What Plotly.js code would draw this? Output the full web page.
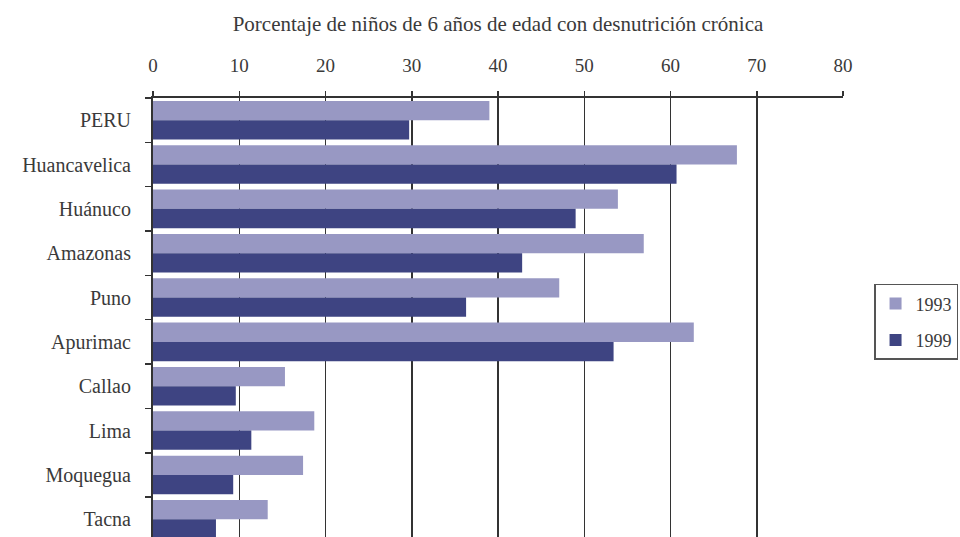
<!DOCTYPE html>
<html>
<head>
<meta charset="utf-8">
<script src="https://cdn.plot.ly/plotly-3.0.1.min.js"></script>
<style>html,body{margin:0;padding:0;background:#fff;}#chart{width:960px;height:537px;}</style>
</head>
<body>
<div id="chart"></div>
<script>
const categories = ["PERU", "Huancavelica", "Huánuco", "Amazonas", "Puno", "Apurimac", "Callao", "Lima", "Moquegua", "Tacna"];
const values1993 = [39.0, 67.7, 53.9, 56.9, 47.1, 62.7, 15.3, 18.7, 17.4, 13.3];
const values1999 = [29.7, 60.7, 49.0, 42.8, 36.3, 53.4, 9.6, 11.4, 9.3, 7.3];
const seriesNames = ["1993", "1999"];
const xTicks = [0, 10, 20, 30, 40, 50, 60, 70, 80];
const titleText = "Porcentaje de niños de 6 años de edad con desnutrición crónica";

const serif = "Liberation Serif";
const textColor = "#3a3a3a";

const traces = [
  {type: "bar", orientation: "h", name: seriesNames[0], y: categories, x: values1993,
   legendgroup: "a", marker: {color: "#9898c3"}},
  {type: "bar", orientation: "h", name: seriesNames[1], y: categories, x: values1999,
   legendgroup: "b", marker: {color: "#3e4482"}}
];

const layout = {
  width: 960, height: 537,
  margin: {l: 153, r: 117, t: 98, b: 0, pad: 0},
  paper_bgcolor: "#fff", plot_bgcolor: "#fff",
  barmode: "group", bargap: 0.13, bargroupgap: 0,
  font: {family: serif, color: textColor, size: 18},
  xaxis: {
    side: "top", range: [0, 80], tickvals: xTicks, ticktext: xTicks.map(String),
    showgrid: true, gridcolor: "#333", gridwidth: 1.5,
    showline: true, linecolor: "#333", linewidth: 2,
    ticks: "outside", ticklen: 5, tickcolor: "#333", tickwidth: 1.5,
    ticklabelstandoff: 11,
    tickfont: {family: serif, size: 19, color: textColor},
    zeroline: false, fixedrange: true,
    title: {text: titleText, font: {family: serif, size: 21, color: textColor}, standoff: 18}
  },
  yaxis: {
    type: "category", range: [9.4, -0.5], autorange: false,
    showline: true, linecolor: "#333", linewidth: 2,
    ticks: "outside", tickson: "boundaries", ticklen: 6, tickcolor: "#333", tickwidth: 1.5,
    showgrid: false, zeroline: false,
    tickfont: {family: serif, size: 20, color: textColor},
    ticklabelstandoff: 16, fixedrange: true
  },
  legend: {
    x: 1.045, xanchor: "left", y: 0.49, yanchor: "middle",
    bordercolor: "#555", borderwidth: 1.5, bgcolor: "#fff",
    font: {family: serif, size: 18, color: textColor},
    itemwidth: 30, tracegroupgap: 10
  },
  showlegend: true
};

Plotly.newPlot("chart", traces, layout, {displayModeBar: false, staticPlot: true});
</script>
</body>
</html>
